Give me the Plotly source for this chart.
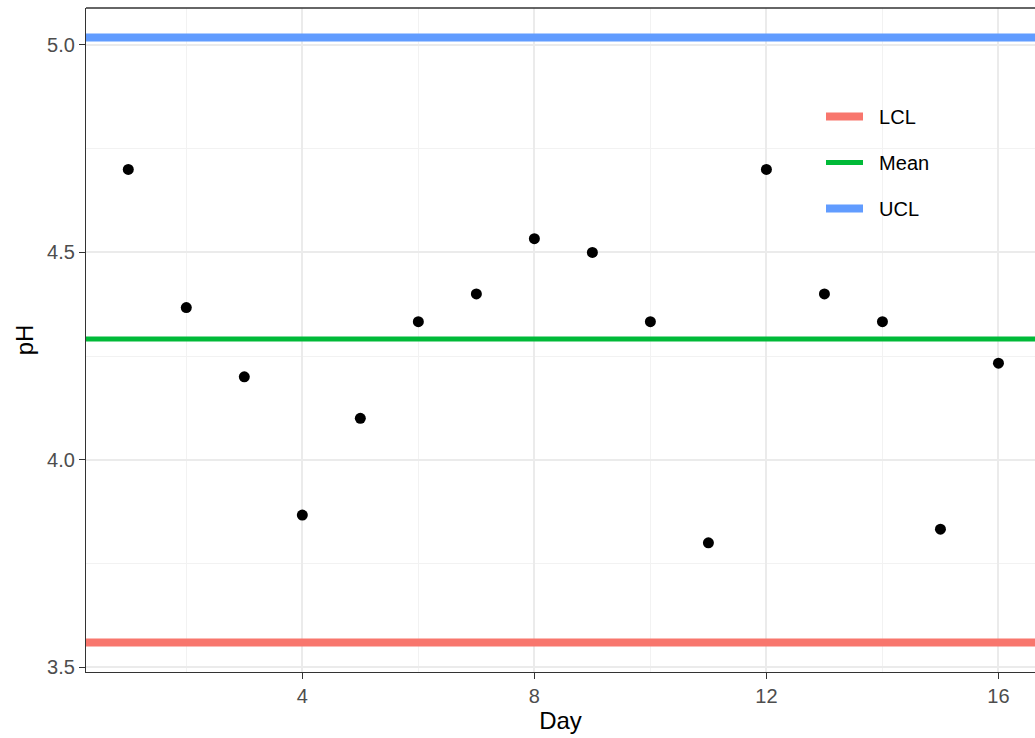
import plotly.graph_objects as go

# Daily pH readings
days = list(range(1, 17))
ph = [4.700, 4.367, 4.200, 3.867, 4.100, 4.333, 4.400, 4.533,
      4.500, 4.333, 3.800, 4.700, 4.400, 4.333, 3.833, 4.233]

# Control limits
limit_names = ["LCL", "Mean", "UCL"]
limit_values = [3.560, 4.291, 5.018]
limit_colors = ["#F8766D", "#00BA38", "#619CFF"]
limit_widths = [8, 5, 8]

x_range = [0.271, 16.63]
y_range = [3.4887, 5.089]

FONT = "Liberation Sans, Arial, sans-serif"

fig = go.Figure()

for name, val, col, w in zip(limit_names, limit_values, limit_colors, limit_widths):
    fig.add_trace(go.Scatter(
        x=[x_range[0] - 1, x_range[1] + 1], y=[val, val],
        mode="lines", name="  " + name, legendgroup=name,
        line=dict(color=col, width=w),
        hoverinfo="skip",
    ))

fig.add_trace(go.Scatter(
    x=days, y=ph, mode="markers", showlegend=False,
    marker=dict(color="black", size=11),
))

axis_common = dict(
    showgrid=True, gridcolor="#EBEBEB", gridwidth=1.5,
    zeroline=False, showline=True, linecolor="#333333", linewidth=1.3,
    ticks="outside", ticklen=6, tickwidth=1.3, tickcolor="#333333",
    tickfont=dict(family=FONT, size=20, color="#4D4D4D"),
)

fig.update_xaxes(
    range=x_range, tick0=0, dtick=4,
    minor=dict(dtick=2, showgrid=True, gridcolor="#F2F2F2", gridwidth=1),
    title=dict(text="Day", font=dict(family=FONT, size=24, color="black"), standoff=4),
    **axis_common,
)
fig.update_yaxes(
    range=y_range, tick0=3.5, dtick=0.5, tickformat=".1f",
    minor=dict(dtick=0.25, showgrid=True, gridcolor="#F2F2F2", gridwidth=1),
    title=dict(text="pH", font=dict(family=FONT, size=24, color="black"), standoff=6),
    **axis_common,
)

# top border of the panel
fig.add_shape(type="line", xref="paper", yref="paper", x0=0, x1=1, y0=1, y1=1,
              line=dict(color="#333333", width=1.3))

# white backing box for the legend (hides grid lines behind it)
fig.add_shape(type="rect", xref="paper", yref="paper",
              x0=(807 - 86) / 949, x1=(947 - 86) / 949,
              y0=(672 - 236) / 664, y1=(672 - 80) / 664,
              fillcolor="white", line=dict(width=0), layer="below")

fig.update_layout(
    width=1035, height=738,
    margin=dict(l=86, r=0, t=8, b=66),
    plot_bgcolor="white", paper_bgcolor="white",
    legend=dict(
        x=(821 - 86) / 949, y=(672 - 97) / 664, xanchor="left", yanchor="top",
        bgcolor="rgba(0,0,0,0)", borderwidth=0,
        font=dict(family=FONT, size=20, color="black"),
        tracegroupgap=17, itemwidth=37,
    ),
    showlegend=True,
)

fig.write_html("out.html")
